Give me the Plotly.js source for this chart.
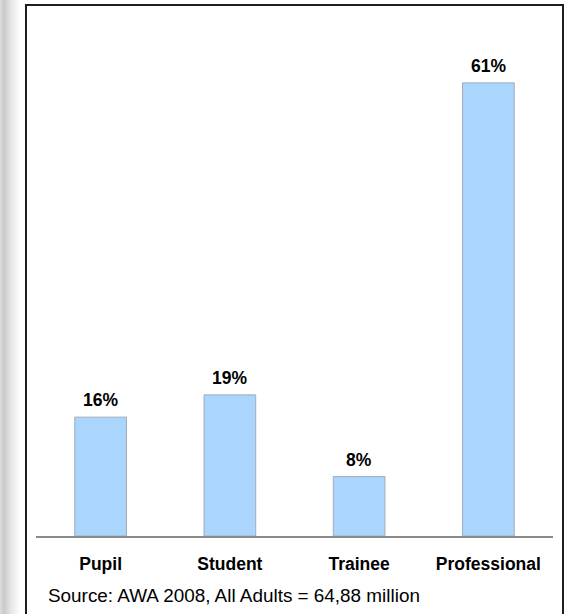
<!DOCTYPE html>
<html>
<head>
<meta charset="utf-8">
<script src="https://cdn.plot.ly/plotly-3.0.1.min.js"></script>
<style>
  html, body { margin: 0; padding: 0; background: #fff; }
  #wrap { position: relative; width: 565px; height: 614px; overflow: hidden; background: #fff; }
  #shade { position: absolute; left: 0; top: 0; width: 22px; height: 614px;
           background: linear-gradient(to right, #dcdcdc 0px, #c9c9c9 4px, #e6e6e6 11px, #ffffff 20px); }
  #frame { position: absolute; left: 25px; top: 4px; width: 539px; height: 640px;
           border: 2px solid #1e1e1e; box-sizing: border-box; }
  #chart { position: absolute; left: 0; top: 0; width: 565px; height: 614px; }
</style>
</head>
<body>
<div id="wrap">
  <div id="shade"></div>
  <div id="frame"></div>
  <div id="chart"></div>
</div>
<script>
const categories = ["Pupil", "Student", "Trainee", "Professional"];
const shares = [16, 19, 8, 61];
const valueLabels = ["16%", "19%", "8%", "61%"];
const sourceNote = "Source: AWA 2008, All Adults = 64,88 million";

const trace = {
  type: "bar",
  x: categories,
  y: shares,
  marker: { color: "#aad5fd", line: { color: "#a3acba", width: 1 } },
  hoverinfo: "skip"
};

const annotations = categories.map((c, i) => ({
  x: c, y: shares[i], xref: "x", yref: "y",
  text: "<b>" + valueLabels[i] + "</b>",
  showarrow: false, yanchor: "bottom", yshift: 5,
  font: { family: "Arial, Liberation Sans, sans-serif", size: 17.5, color: "#000" }
}));
annotations.push({
  xref: "paper", yref: "paper", x: 0.019, y: -0.1135,
  xanchor: "left", yanchor: "middle", showarrow: false,
  text: sourceNote,
  font: { family: "Arial, Liberation Sans, sans-serif", size: 18.9, color: "#000" }
});

const layout = {
  width: 565, height: 614,
  margin: { l: 36, r: 12, t: 16, b: 78 },
  paper_bgcolor: "rgba(0,0,0,0)",
  plot_bgcolor: "rgba(0,0,0,0)",
  bargap: 0.6,
  showlegend: false,
  xaxis: {
    type: "category", range: [-0.5, 3.5],
    showline: true, linecolor: "#8a8a8a", linewidth: 2,
    showgrid: false, zeroline: false,
    ticks: "outside", ticklen: 11, tickcolor: "rgba(0,0,0,0)",
    tickfont: { family: "Arial, Liberation Sans, sans-serif", size: 17.5, color: "#000", weight: "bold" }
  },
  yaxis: {
    range: [0, 70], visible: false, showgrid: false, zeroline: false
  },
  annotations: annotations
};

Plotly.newPlot("chart", [trace], layout, { displayModeBar: false, staticPlot: true });
</script>
</body>
</html>
